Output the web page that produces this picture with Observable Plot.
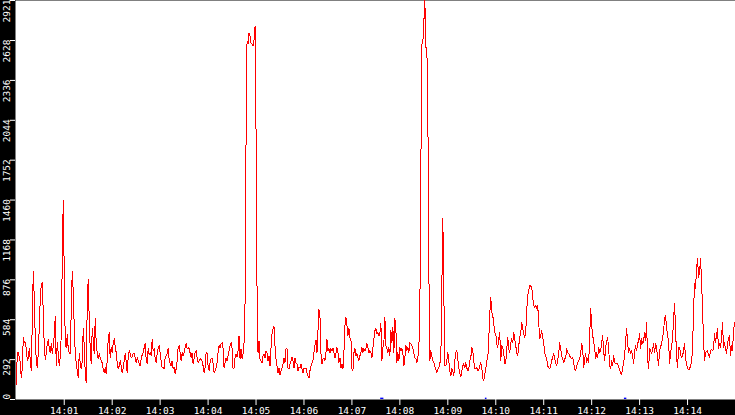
<!DOCTYPE html>
<html>
<head>
<meta charset="utf-8">
<script src="https://cdn.jsdelivr.net/npm/d3@7"></script>
<script src="https://cdn.jsdelivr.net/npm/@observablehq/plot@0.6"></script>
<style>
  html, body { margin: 0; padding: 0; background: #000; }
  #chart svg { display: block; }
</style>
</head>
<body>
<div id="chart"></div>
<script>
// Sampling of the trace
const startTime = "14:00:00";
const sampleSeconds = 1.25;

// Series values (segment by segment)
const valuesA = [
  107,342,342,305,269,158,224,453,416,416,
  372,283,305,372,283,210,563,938,739,445,
  283,232,342,526,739,842,857,629,394,291,
  335,408,438,379,342,408,335,394,467,607,
  246,416,335,246,313,467,1004,1461,931,416,
  379,475,372,342,335,651,938,791,526,342,
  269,210,158,335,269,224,283,519,394,195,
  121,710,880,592,372,261,519,445,335,592,
  416,342,298,335,305,283,269,224,195,232,
  188,283,438,489,305,379,342,408,445,394,
  342,269,224,246,283,246,195,232,283,335,
  283,195,305,357,335,305,313,335,335,305,
  269,305,283,261,246
];
const valuesB = [
  298,327,342,379,408,298,261,372,327,342,
  320,438,357,372,305,269,335,372,394,342,
  283,232,239,224,305,320,335,372,298,261,
  246,283,224,239,188,224,283,379,394,342,
  283,342,320,342,379,408,372,379,372,342,
  305,342,261,298,342,357,305,269,283,298,
  291,283,246,195,232,342,335,246,210,269,
  298,305,261,195,210,232,269,342,394,379,
  408,416,372,232,269,305,283,320,357,394,
  416,372,224,232,305,335,313,357,467,298,
  372,298,335,416,
  703,1888,2620,2601,2682,2660,2610,2600,2590,2630,2733,1960,800
];
const valuesC = [
  342,430,298,283,269,320,335,305,357,342,
  283,320,246,379,482,519,534,394,298,246,
  195,232,180,210,232,261,305,269,372,372,
  232,224,261,283,313,283,232,305,269,261,
  210,239,232,261,224,195,232,224,232,195,
  173,158,210,246,269,283,342,394,438,342,
  497,658,614,335,261,298,305,283,342,438,
  357,372,342,372,357,379,342,305,335,379,
  342,269,305,232,261,224,342,541,600,541,
  467,519,453,445,224,210,342,372,320,335,
  305,283,320,342,379,342,372,357,372,408,
  379,342,357,342,305,379,445,504,519,482,
  489,467,482
];
const valuesD = [
  557,283,379,416,600,394,372,342,379,320,
  504,416,526,342,592,519,269,342,283,379,
  357,372,342,246,305,394,357,379,342,416,
  408,394,379,335,305,298,269,305,379,630,
  1681,2601,2615,2762,2921,2578,2578,2122,968,283,
  357,320,283,269,246,217,195,224,232,269,
  283,813,1328,784,246,246,283,342,283,210,
  173,224,210,173,283,342,357,298,232,195,
  166,210,246,261,232,269,232,210,224,283,
  305,379,357,283,224,224,232,210,217,246,
  269,232,151,136,188,224,283,298,445,629,
  747,636,614,557,489,482,408,379,445,489
];
const valuesE = [
  283,394,379,335,261,269,372,453,372,342,
  416,445,416,489,445,394,342,320,394,453,
  489,563,519,482,453,489,658,761,798,835,
  828,820,747,688,673,688,666,688,563,445,
  467,504,453,416,335,320,298,246,232,224,
  246,283,313,335,298,269,246,283,342,416,
  372,320,298,269,298,305,372,342,335,320,
  305,298,305,269,224,210,246,269,283,298,
  342,408,372,232,298,335,269,298,269,453,
  666,541,467,430,372,298,342,305,379,342,
  357,416,467,357,283,379,430,453,379,246,
  224,283,246,320,269,261,261,261,232,224
];
const valuesF = [
  188,180,232,269,320,430,519,416,342,372,
  335,357,320,261,357,394,357,408,430,482,
  372,445,408,430,489,430,563,298,224,372,
  357,335,372,408,342,408,379,305,246,357,
  379,416,445,504,592,614,526,467,430,261,
  335,394,445,592,703,519,305,232,379,379,
  335,305,320,357,408,305,261,232,217,224,
  246,269,372,651,850,813,960,1034,894,931,
  1034,872,666,430,283,342,350,357,327,305,
  357,364,357,372,482,416,467,519,372,408,
  379,453,563,379,416,372,335,408,445,467,
  320,394,357,504,563
];

// Axis ticks
const yTicks = [0,292,584,876,1168,1460,1752,2044,2336,2628,2921];
const xTickLabels = ["14:01","14:02","14:03","14:04","14:05","14:06","14:07",
                     "14:08","14:09","14:10","14:11","14:12","14:13","14:14"];
const axisStart = "13:59:59";
const axisEnd = "14:15:00";

// Small blue markers on the time axis
const markerStarts = ["14:07:36","14:09:47","14:12:41"];
const markerEnds   = ["14:07:40","14:09:49","14:12:44"];

// ---- build ----
const day = "2000-01-01T";
const toDate = s => new Date(day + s);
const t0 = toDate(startTime);
const values = [].concat(valuesA, valuesB, valuesC, valuesD, valuesE, valuesF);
const data = values.map((v, i) => ({t: new Date(+t0 + i * sampleSeconds * 1000), v}));
const xTicks = xTickLabels.map(s => toDate(s + ":00"));
const markers = markerStarts.map((s, i) => ({a: toDate(s), b: toDate(markerEnds[i])}));
const yMax = yTicks[yTicks.length - 1];
const font = "DejaVu Sans Mono";

const chart = Plot.plot({
  width: 735,
  height: 415,
  marginLeft: 15,
  marginRight: 0,
  marginTop: 0,
  marginBottom: 16,
  style: {background: "#000", color: "#fff", fontFamily: font, fontSize: "9.5px", overflow: "visible"},
  x: {type: "time", domain: [toDate(axisStart), toDate(axisEnd)]},
  y: {domain: [0, yMax]},
  marks: [
    Plot.frame({fill: "#fff", stroke: "none"}),
    Plot.line(data, {x: "t", y: "v", stroke: "#ff0000", strokeWidth: 1, shapeRendering: "crispEdges"}),
    Plot.rect(markers, {x1: "a", x2: "b", y1: 0, y2: 10, fill: "#0000ff"}),
    Plot.axisX({ticks: xTicks, tickFormat: d3.timeFormat("%H:%M"), tickSize: 6, tickPadding: 2,
                fontSize: 9.5, fontFamily: font, label: null}),
    Plot.axisY({ticks: yTicks, tickSize: 5, tickFormat: () => "", label: null}),
    Plot.text(yTicks.filter(d => d > 0), {y: d => d, text: d => String(d), frameAnchor: "left",
      dx: -9, dy: -1, rotate: -90, textAnchor: "end", lineAnchor: "middle",
      fill: "#fff", fontSize: 9.5, fontFamily: font}),
    Plot.text(yTicks.filter(d => d === 0), {y: d => d, text: d => String(d), frameAnchor: "left",
      dx: -9, dy: 0, rotate: -90, textAnchor: "start", lineAnchor: "middle",
      fill: "#fff", fontSize: 9.5, fontFamily: font})
  ]
});
document.getElementById("chart").appendChild(chart);
</script>
</body>
</html>
